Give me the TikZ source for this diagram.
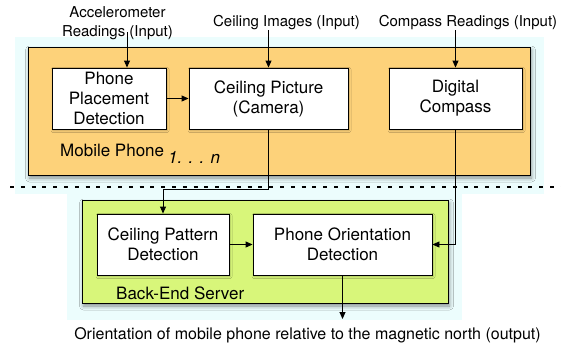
\documentclass[tikz,border=0pt]{standalone}
\usepackage{fontspec}
\setmainfont{TeX Gyre Heros}
\usetikzlibrary{arrows.meta,shadows.blur}
\definecolor{phoneorange}{RGB}{253,210,122}
\definecolor{servergreen}{RGB}{216,246,122}
\definecolor{haze}{RGB}{236,253,253}

\begin{document}
\begin{tikzpicture}[x=1pt,y=-1pt,
  arr/.style={-{Triangle[length=7pt,width=6pt]}, line width=0.9pt},
  block/.style={draw, line width=0.9pt, fill=white, align=center, inner sep=0pt,
    font=\fontsize{17}{20}\selectfont,
    blur shadow={shadow xshift=1pt, shadow yshift=-1.5pt, shadow blur radius=2pt, shadow opacity=25}},
  group/.style={draw, line width=1pt, inner sep=0pt,
    blur shadow={shadow xshift=1.5pt, shadow yshift=-3pt, shadow blur radius=4pt, shadow opacity=45}},
  grouplabel/.style={anchor=west, inner sep=0pt, font=\fontsize{17}{20}\selectfont},
  inlabel/.style={font=\fontsize{15}{19}\selectfont, align=center, inner sep=0pt}]
\useasboundingbox (0,0) rectangle (561,346);

% light backdrop behind the two groups
\fill[haze] (15,37) rectangle (544,194);
\fill[haze] (67,194) rectangle (462,320);

% group containers
\node[group, fill=phoneorange, minimum width=502pt, minimum height=128pt] (phone) at (279,111) {};
\node[group, fill=servergreen, minimum width=366pt, minimum height=103pt] (server) at (265,251.5) {};

% processing blocks
\node[block, minimum width=114pt, minimum height=61pt] (place) at (109,98.5) {Phone\\Placement\\Detection};
\node[block, minimum width=159pt, minimum height=61pt] (cpc) at (268.5,98.5) {Ceiling Picture\\(Camera)};
\node[block, minimum width=133pt, minimum height=61pt] (dc) at (455.5,98.5) {Digital\\Compass};
\node[block, minimum width=132pt, minimum height=61pt] (cpd) at (163,244.5) {Ceiling Pattern\\Detection};
\node[block, minimum width=179pt, minimum height=61pt] (pod) at (342.5,244.5) {Phone Orientation\\Detection};

% group captions
\node[grouplabel] (mobile) at (60,150) {Mobile Phone};
\node[grouplabel, font=\fontsize{17}{20}\selectfont\itshape] (count) at (168,157) {1. . . n};
\node[grouplabel] (backend) at (116,293) {Back-End Server};

% separator between phone and server
\draw[line width=2pt, dash pattern=on 4pt off 6.8pt] (10,187) -- (561,187);

% inputs and output
\node[inlabel] (acc) at (117.5,23.5) {Accelerometer\\Readings (Input)};
\node[inlabel] (img) at (286.5,23) {Ceiling Images (Input)};
\node[inlabel] (cmp) at (468,23) {Compass Readings (Input)};
\node[inlabel, font=\fontsize{16}{19}\selectfont] (out) at (307.5,335) {Orientation of mobile phone relative to the magnetic north (output)};

% connectors
\coordinate (accstart) at (127,32);
\coordinate (bend) at (163,189);
\coordinate (outtip) at (342.5,319);
\draw[arr] (accstart) -- (accstart |- place.north);
\draw[arr] (img.south -| cpc.north) -- (cpc.north);
\draw[arr] (cmp.south -| dc.north) -- (dc.north);
\draw[arr] (place.east) -- (cpc.west);
\draw[arr] (cpc.south) |- (bend) -- (cpd.north);
\draw[arr] (cpd.east) -- (pod.west);
\draw[arr] (dc.south) |- (pod.east);
\draw[arr] (pod.south) -- (outtip);
\end{tikzpicture}
\end{document}
